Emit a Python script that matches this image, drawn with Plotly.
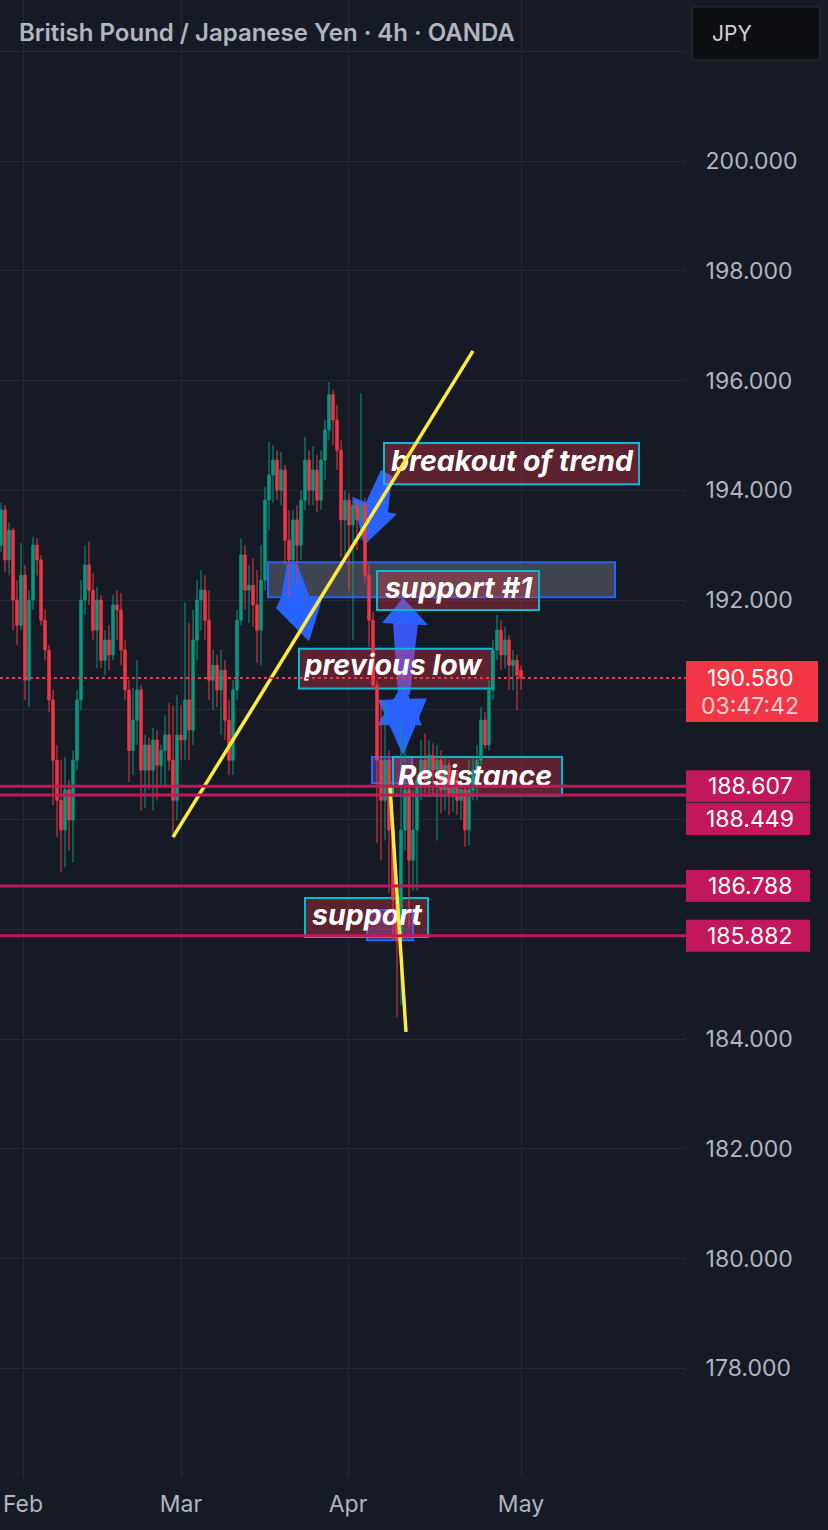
import plotly.graph_objects as go

# ---------------- data (GBP/JPY) ----------------
opens = [193.00, 193.64, 192.73, 193.27, 192.00, 191.54, 192.45, 190.54, 192.00, 193.00,
         192.73, 191.63, 191.09, 190.18, 189.08, 188.35, 187.81, 188.54, 187.99, 189.08,
         190.18, 192.00, 192.64, 192.18, 191.45, 192.00, 190.90, 191.27, 191.00, 191.91,
         191.82, 191.09, 190.36, 189.26, 189.81, 190.36, 188.90, 189.36, 188.90, 189.45,
         188.99, 189.26, 189.54, 189.08, 188.35, 189.54, 189.45, 190.18, 189.63, 191.27,
         192.00, 192.18, 191.63, 190.54, 190.81, 190.36, 190.72, 189.81, 189.08, 190.36,
         191.63, 192.82, 192.18, 192.27, 191.91, 191.45, 192.36, 193.82, 194.28, 194.55,
         194.00, 194.37, 193.09, 192.73, 193.46, 193.00, 193.82, 194.55, 194.00, 194.37,
         193.82, 194.55, 195.10, 195.74, 195.28, 194.73, 193.46, 193.82, 193.37, 193.73,
         193.46, 193.73, 192.45, 191.63, 190.45, 189.08, 188.35, 189.08, 187.81, 186.53,
         185.80, 187.81, 188.54, 187.26, 187.81, 188.72, 189.08, 188.72, 189.17, 188.90,
         189.08, 188.54, 188.99, 188.44, 188.72, 188.35, 188.54, 187.81, 188.54, 188.90,
         189.08, 189.81, 189.36, 190.36, 191.09, 191.45, 191.00, 191.27, 190.81, 190.90,
         190.72]
highs = [193.77, 193.73, 193.42, 193.31, 192.36, 193.04, 192.64, 192.18, 193.15, 193.13,
         192.82, 191.82, 191.18, 190.36, 189.36, 189.08, 189.14, 188.72, 189.26, 190.36,
         192.36, 193.00, 193.06, 192.49, 192.24, 192.09, 191.45, 191.54, 192.09, 192.18,
         192.13, 191.27, 190.54, 190.40, 190.90, 190.45, 189.54, 189.50, 189.67, 189.63,
         189.36, 189.90, 190.12, 190.08, 190.27, 190.08, 191.96, 191.58, 191.82, 192.36,
         192.55, 192.45, 192.18, 191.09, 191.00, 191.09, 190.90, 190.18, 190.54, 191.82,
         193.13, 193.00, 192.64, 192.76, 192.55, 193.00, 194.06, 194.88, 194.82, 194.73,
         194.70, 194.46, 193.64, 193.64, 193.73, 194.00, 194.97, 194.73, 194.80, 194.64,
         194.73, 195.28, 195.97, 195.83, 195.55, 194.91, 194.00, 193.95, 193.82, 193.82,
         195.77, 193.86, 192.64, 191.78, 190.54, 190.18, 190.12, 189.26, 187.99, 186.89,
         189.81, 189.50, 188.81, 188.54, 188.81, 189.45, 189.57, 189.45, 189.39, 189.36,
         189.26, 189.17, 189.08, 188.90, 188.90, 188.81, 188.63, 189.08, 189.17, 189.36,
         190.05, 189.96, 190.54, 191.27, 191.73, 191.63, 191.51, 191.36, 191.09, 191.00,
         190.81]
lows = [192.87, 192.51, 192.45, 191.45, 191.18, 191.45, 190.18, 190.05, 191.82, 192.45,
        191.54, 190.90, 189.96, 188.26, 187.68, 187.04, 187.13, 187.44, 187.22, 188.90,
        189.99, 191.73, 191.91, 191.27, 190.76, 190.76, 190.63, 190.72, 190.90, 191.27,
        190.81, 190.18, 188.68, 188.81, 189.36, 188.17, 188.21, 188.54, 188.17, 188.35,
        188.59, 188.63, 188.90, 187.68, 187.99, 189.08, 189.08, 189.08, 189.36, 190.90,
        191.45, 191.27, 190.18, 189.99, 190.05, 189.54, 189.45, 188.81, 188.81, 190.18,
        191.54, 191.82, 191.58, 191.51, 190.85, 190.81, 192.18, 193.27, 193.77, 193.82,
        193.73, 192.64, 192.05, 192.27, 192.31, 192.73, 193.64, 193.73, 193.73, 193.60,
        193.64, 194.19, 194.91, 194.82, 194.37, 192.78, 192.73, 192.18, 191.27, 192.91,
        193.09, 192.31, 191.14, 190.36, 187.57, 187.26, 187.62, 186.66, 185.80, 184.40,
        184.62, 187.44, 186.04, 186.71, 186.71, 188.35, 188.48, 188.48, 188.44, 187.62,
        188.12, 188.17, 188.08, 188.14, 188.08, 187.99, 187.50, 187.53, 188.35, 188.35,
        188.99, 189.30, 189.26, 190.18, 190.90, 190.72, 190.76, 190.36, 190.36, 189.99,
        190.36]
closes = [193.64, 192.73, 193.27, 192.00, 191.54, 192.45, 190.54, 192.00, 193.00, 192.73,
          191.63, 191.09, 190.18, 189.08, 188.35, 187.81, 188.54, 187.99, 189.08, 190.18,
          192.00, 192.64, 192.18, 191.45, 192.00, 190.90, 191.27, 191.00, 191.91, 191.82,
          191.09, 190.36, 189.26, 189.81, 190.36, 188.90, 189.36, 188.90, 189.45, 188.99,
          189.26, 189.54, 189.08, 188.35, 189.54, 189.45, 190.18, 189.63, 191.27, 192.00,
          192.18, 191.63, 190.54, 190.81, 190.36, 190.72, 189.81, 189.08, 190.36, 191.63,
          192.82, 192.18, 192.27, 191.91, 191.45, 192.36, 193.82, 194.28, 194.55, 194.00,
          194.37, 193.09, 192.73, 193.46, 193.00, 193.82, 194.55, 194.00, 194.37, 193.82,
          194.55, 195.10, 195.74, 195.28, 194.73, 193.46, 193.82, 193.37, 193.73, 193.46,
          193.73, 192.45, 191.63, 190.45, 189.08, 188.35, 189.08, 187.81, 186.53, 185.80,
          187.81, 188.54, 187.26, 187.81, 188.72, 189.08, 188.72, 189.17, 188.90, 189.08,
          188.54, 188.99, 188.44, 188.72, 188.35, 188.54, 187.81, 188.54, 188.90, 189.08,
          189.81, 189.36, 190.36, 191.09, 191.45, 191.00, 191.27, 190.81, 190.90, 190.63,
          190.58]
bars = list(range(len(closes)))

price_ticks = [178, 180, 182, 184, 186, 188, 190, 192, 194, 196, 198, 200, 202]
price_tick_labels = ["178.000", "180.000", "182.000", "184.000", "", "", "",
                     "192.000", "194.000", "196.000", "198.000", "200.000", ""]
month_pos = [5.5, 45, 86.75, 130]
month_labels = ["Feb", "Mar", "Apr", "May"]

level_prices = [188.607, 188.449, 186.788, 185.882]
level_labels = ["188.607", "188.449", "186.788", "185.882"]
level_label_shift = [0, -24, 0, 0]
last_price = 190.580
last_label = "190.580"
countdown = "03:47:42"

box_texts = ["breakout of trend", "support #1", "previous low", "Resistance", "support"]
box_text_x = [127.75, 114.4, 98.0, 118.5, 91.5]
box_text_y = [194.49, 192.16, 190.76, 188.74, 186.20]
# label boxes (x0, x1, y0, y1) in bar / price units
label_boxes = [(95.75, 159.5, 194.11, 194.86),
               (94.0, 134.5, 191.82, 192.53),
               (74.5, 122.75, 190.39, 191.11),
               (98.0, 140.25, 188.44, 189.14),
               (76.0, 106.75, 185.86, 186.57)]

# ---------------- styling ----------------
BG = "#161a25"
GRID = "#242834"
AXIS_TXT = "#b2b5be"
UP = "#089981"
DOWN = "#f23645"
LEVEL = "#c2185b"
CYAN = "#00bcd4"
BLUE = "#2962ff"
YELLOW = "#ffeb3b"
FONT = "Inter, Roboto, sans-serif"

fig = go.Figure()
fig.add_trace(go.Candlestick(
    x=bars, open=opens, high=highs, low=lows, close=closes,
    increasing=dict(line=dict(color=UP, width=1), fillcolor=UP),
    decreasing=dict(line=dict(color=DOWN, width=1), fillcolor=DOWN),
    whiskerwidth=0, showlegend=False, hoverinfo="skip"))

fig.add_trace(go.Scatter(
    x=box_text_x, y=box_text_y, text=box_texts, mode="text",
    textposition="middle center",
    textfont=dict(family=FONT, size=28.5, color="#ffffff", weight="bold", style="italic"),
    showlegend=False, hoverinfo="skip"))

shapes = []
# zone rectangle
shapes.append(dict(type="rect", xref="x", yref="y", x0=66.75, x1=153.5, y0=192.05, y1=192.69,
                   fillcolor="rgba(128,132,146,0.40)", line=dict(color=BLUE, width=2), layer="between"))
# blue arrows (drawn beneath candles)
shapes.append(dict(type="path", xref="x", yref="y", layer="between", fillcolor=BLUE, line=dict(width=0),
                   path="M 95 194.37 L 97.75 194.26 L 96.75 193.60 L 99 193.57 L 90.75 193.00 L 87.75 193.88 L 91.25 193.78 Z"))
shapes.append(dict(type="path", xref="x", yref="y", layer="between", fillcolor=BLUE, line=dict(width=0),
                   path="M 71.5 192.67 L 74 192.67 L 77.25 192.04 L 80.5 192.07 L 77 191.25 L 68.75 191.85 L 70 192.04 Z"))
shapes.append(dict(type="path", xref="x", yref="y", layer="between", fillcolor="#3a55f0", line=dict(width=0),
                   path="M 98 191.58 L 104.25 191.58 L 102.25 190.27 L 99.25 190.27 Z"))
shapes.append(dict(type="path", xref="x", yref="y", layer="between", fillcolor=BLUE, line=dict(width=0),
                   path="M 100.5 192.04 L 95.25 191.58 L 106.75 191.54 Z"))
shapes.append(dict(type="path", xref="x", yref="y", layer="between", fillcolor=BLUE, line=dict(width=0),
                   path="M 94.25 190.18 L 106.5 190.21 L 100.5 189.17 Z"))
shapes.append(dict(type="path", xref="x", yref="y", layer="between", fillcolor=BLUE, line=dict(width=0),
                   path="M 94 189.72 L 105.25 189.72 L 100.5 190.47 Z"))
# small blue rectangles
shapes.append(dict(type="rect", xref="x", yref="y", x0=92.75, x1=102.75, y0=188.66, y1=189.14,
                   fillcolor="rgba(100,80,200,0.45)", line=dict(color=BLUE, width=2), layer="between"))
shapes.append(dict(type="rect", xref="x", yref="y", x0=91.5, x1=103.0, y0=185.80, y1=186.35,
                   fillcolor="rgba(100,80,200,0.45)", line=dict(color=BLUE, width=2), layer="between"))
# label boxes
for (x0, x1, y0, y1) in label_boxes:
    shapes.append(dict(type="rect", xref="x", yref="y", x0=x0, x1=x1, y0=y0, y1=y1,
                       fillcolor="rgba(242,54,69,0.32)", line=dict(color=CYAN, width=2), layer="between"))
# yellow trend lines
shapes.append(dict(type="line", xref="x", yref="y", x0=43, y0=187.68, x1=118, y1=196.54,
                   line=dict(color=YELLOW, width=3.5), layer="above"))
shapes.append(dict(type="line", xref="x", yref="y", x0=97.25, y0=188.59, x1=101.25, y1=184.13,
                   line=dict(color=YELLOW, width=3.5), layer="above"))
# horizontal levels
for p in level_prices:
    shapes.append(dict(type="line", xref="paper", yref="y", x0=0, x1=1, y0=p, y1=p,
                       line=dict(color=LEVEL, width=3), layer="above"))
# current price dotted line
shapes.append(dict(type="line", xref="paper", yref="y", x0=0, x1=1, y0=last_price, y1=last_price,
                   line=dict(color=DOWN, width=2, dash="dot"), layer="above"))
# right-side price boxes
for p, s in zip(level_prices, level_label_shift):
    shapes.append(dict(type="rect", xref="paper", yref="y", ysizemode="pixel", yanchor=p,
                       x0=1.0, x1=810 / 686, y0=-16 + s, y1=16 + s,
                       fillcolor=LEVEL, line=dict(width=0), layer="above"))
shapes.append(dict(type="rect", xref="paper", yref="y", ysizemode="pixel", yanchor=last_price,
                   x0=1.0, x1=818 / 686, y0=-44, y1=17,
                   fillcolor=DOWN, line=dict(width=0), layer="above"))
# JPY box
shapes.append(dict(type="rect", xref="paper", yref="paper", x0=692 / 686, x1=820 / 686,
                   y0=1 - 60 / 1478, y1=1 - 7 / 1478, fillcolor="#0e0f13",
                   line=dict(color="#2a2e39", width=1), layer="above"))

annotations = []
for p, lab, s in zip(level_prices, level_labels, level_label_shift):
    annotations.append(dict(xref="paper", yref="y", x=750 / 686, y=p, yshift=s, text=lab,
                            showarrow=False, xanchor="center", yanchor="middle",
                            font=dict(family=FONT, size=23, color="#ffffff")))
annotations.append(dict(xref="paper", yref="y", x=750 / 686, y=last_price, text=last_label,
                        showarrow=False, xanchor="center", yanchor="middle",
                        font=dict(family=FONT, size=23, color="#ffffff")))
annotations.append(dict(xref="paper", yref="y", x=750 / 686, y=last_price, yshift=-28, text=countdown,
                        showarrow=False, xanchor="center", yanchor="middle",
                        font=dict(family=FONT, size=23, color="#fcd0d4")))
annotations.append(dict(xref="paper", yref="paper", x=17 / 686, y=1 - 33 / 1478,
                        text="British Pound / Japanese Yen · 4h · OANDA", showarrow=False,
                        xanchor="left", yanchor="middle",
                        font=dict(family=FONT, size=24, color=AXIS_TXT, weight=600)))
annotations.append(dict(xref="paper", yref="paper", x=710 / 686, y=1 - 34 / 1478, text="JPY",
                        showarrow=False, xanchor="left", yanchor="middle",
                        font=dict(family=FONT, size=21, color="#d1d4dc")))

fig.update_layout(
    width=828, height=1530,
    margin=dict(l=0, r=142, t=0, b=52),
    paper_bgcolor=BG, plot_bgcolor=BG,
    showlegend=False, boxgap=0.15,
    shapes=shapes, annotations=annotations,
    xaxis=dict(range=[-0.25, 171.25], rangeslider=dict(visible=False),
               tickvals=month_pos, ticktext=month_labels, showgrid=True, gridcolor=GRID,
               gridwidth=1, zeroline=False, showline=False, ticks="outside", ticklen=5,
               tickcolor=BG, tickfont=dict(family=FONT, size=23, color=AXIS_TXT), fixedrange=True),
    yaxis=dict(range=[176.0, 202.935], side="right", tickvals=price_ticks,
               ticktext=price_tick_labels, showgrid=True, gridcolor=GRID, gridwidth=1,
               zeroline=False, showline=False, ticks="outside", ticklen=14, tickcolor=BG,
               tickfont=dict(family=FONT, size=23, color=AXIS_TXT), fixedrange=True),
)

fig.write_html("out.html")
